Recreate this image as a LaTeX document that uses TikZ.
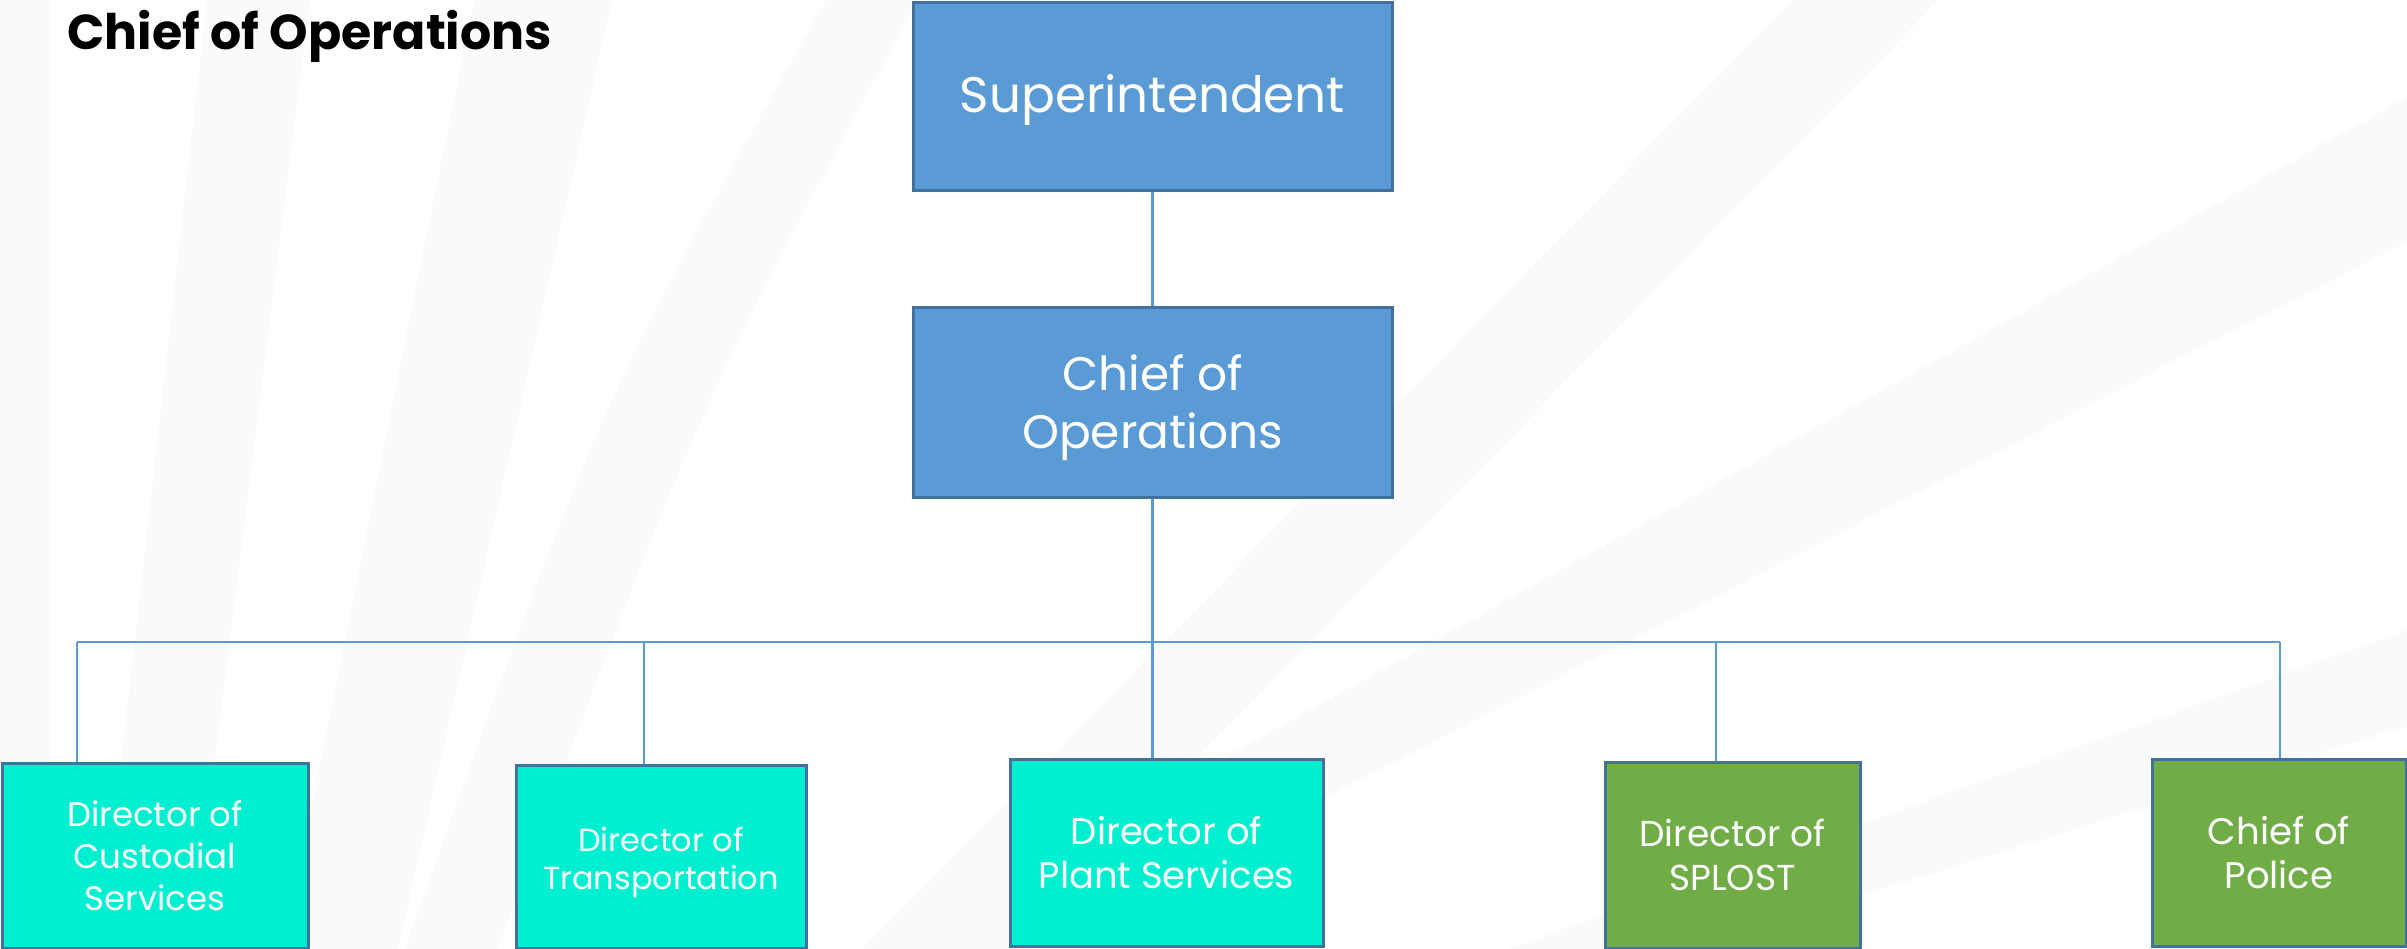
\documentclass[tikz,border=0pt]{standalone}
\usepackage{fontspec}
\setmainfont{Poppins}
\newcommand{\lowertext}[2]{\raisebox{-#1}[\height][\depth]{\begin{tabular}{@{}c@{}}#2\end{tabular}}}
\begin{document}
\begin{tikzpicture}[x=1pt,y=-1pt,
  bg/.style={fill=stripe,draw=none},
  orgbox/.style={draw=boxedge,line width=3pt,text=white,align=center,inner sep=0pt,minimum width=#1},
  link/.style={draw=linkblue,line width=2.5pt},
]
\definecolor{stripe}{RGB}{249,250,252}
\definecolor{boxedge}{HTML}{41719C}
\definecolor{supblue}{HTML}{5B9BD5}
\definecolor{linkblue}{HTML}{5B9BD5}
\definecolor{cyanbox}{HTML}{00EFD1}
\definecolor{greenbox}{HTML}{70AD47}
\useasboundingbox (0,0) rectangle (2407,949);
\fill[white] (0,0) rectangle (2407,949);
% faint background stripes
\fill[bg] (0,0) rectangle (50,949);
\fill[bg] (207,0) -- (310,0) -- (191,949) -- (100,949) -- cycle;
\fill[bg] (474,0) -- (612,0) -- (398,949) -- (283,949) -- cycle;
\fill[bg] (826,0) -- (918,0) .. controls (700,400) .. (497,949) -- (405,949) .. controls (600,400) .. cycle;
\fill[bg] (1793,0) -- (1939,0) -- (1010,949) -- (863,949) -- cycle;
\fill[bg] (2407,97) -- (2407,242) -- (1030,949) -- (882,949) -- cycle;
\fill[bg] (2407,630) -- (2407,726) -- (1690,949) -- (1508,949) -- cycle;

\node[anchor=base west,font=\bfseries\fontsize{49}{58}\selectfont,text=black] (title) at (64,50) {Chief of Operations};

\node[orgbox=479pt,minimum height=188pt,fill=supblue,font=\fontsize{50}{60}\selectfont] (sup) at (1152.5,97) {\lowertext{4pt}{Superintendent}};
\node[orgbox=479pt,minimum height=189pt,fill=supblue,font=\fontsize{47}{58}\selectfont] (coo) at (1152.5,402.5) {\lowertext{5pt}{Chief of\\Operations}};

\node[orgbox=306pt,minimum height=185pt,fill=cyanbox,font=\fontsize{34}{42}\selectfont] (cus) at (155,855.5) {Director of\\Custodial\\Services};
\node[orgbox=290pt,minimum height=183pt,fill=cyanbox,font=\fontsize{32}{38}\selectfont] (tra) at (661,856.5) {\lowertext{6pt}{Director of\\Transportation}};
\node[orgbox=313pt,minimum height=187pt,fill=cyanbox,font=\fontsize{37}{44}\selectfont] (pla) at (1166.5,852.5) {Director of\\Plant Services};
\node[orgbox=255pt,minimum height=186pt,fill=greenbox,font=\fontsize{36}{44}\selectfont] (spl) at (1732.5,855) {Director of\\SPLOST};
\node[orgbox=254pt,minimum height=187pt,fill=greenbox,font=\fontsize{37}{44}\selectfont] (pol) at (2279,852.5) {Chief of\\Police};

\coordinate (busL) at (77,642);
\coordinate (busR) at (2280,642);
\coordinate (busT) at (644,642);
\coordinate (busS) at (1716,642);

\draw[link] (sup.south) -- (coo.north);
\draw[link] (coo.south) -- (coo.south |- pla.north);
\draw[link] (busL) -- (busR);
\draw[link] (busL) -- (busL |- cus.north);
\draw[link] (busT) -- (busT |- tra.north);
\draw[link] (busS) -- (busS |- spl.north);
\draw[link] (busR) -- (busR |- pol.north);
\end{tikzpicture}
\end{document}
